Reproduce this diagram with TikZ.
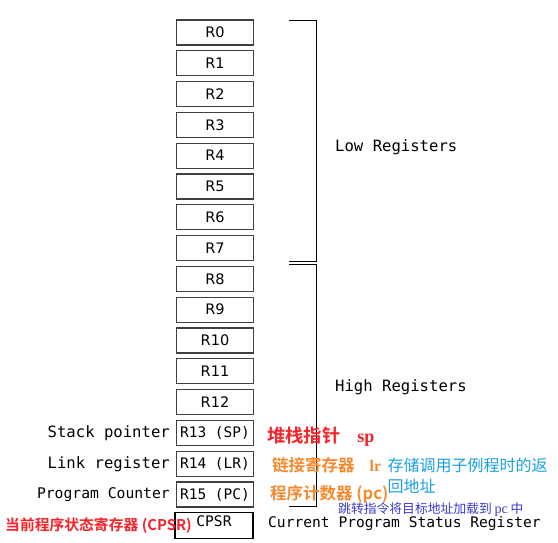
\documentclass[tikz,border=0pt]{standalone}
\usepackage{fontspec}
\setmainfont{DejaVu Sans}
\newfontfamily\monofont{DejaVu Sans Mono}
\newfontfamily\regfont{DejaVu Sans}
\newfontfamily\cjkb{Noto Sans CJK SC}[BoldFont={Noto Sans CJK SC Bold}]
\newfontfamily\cjk{Noto Sans CJK SC}
\newfontfamily\serifb{Liberation Serif}
\definecolor{cred}{HTML}{F5222A}
\definecolor{corange}{HTML}{F4892E}
\definecolor{ccyan}{HTML}{1A9FE3}
\definecolor{cblue}{HTML}{3A3AD0}
\begin{document}
\begin{tikzpicture}[x=1pt,y=-1pt,
  regbox/.style={draw=black!75,line width=1.3pt,minimum width=77pt,minimum height=25pt,inner sep=0pt,font=\regfont\fontsize{14.5}{16}\selectfont},
  monobox/.style={regbox,font=\monofont\fontsize{14.5}{16}\selectfont},
  side/.style={anchor=east,inner sep=0pt,font=\monofont\fontsize{15.6}{17}\selectfont},
  txt/.style={anchor=west,inner sep=0pt},
  brk/.style={line width=1pt}]
\useasboundingbox (0,0) rectangle (558,543);
\foreach \i in {0,...,12}{
  \node[regbox] (r\i) at (215,{32.5+30.8*\i}) {R\i};
}
\node[monobox] (r13) at (215,{32.5+30.8*13}) {R13 (SP)};
\node[monobox] (r14) at (215,{32.5+30.8*14}) {R14 (LR)};
\node[monobox] (r15) at (215,{32.5+30.8*15}) {R15 (PC)};
\node[draw=black,line width=1.5pt,minimum width=78pt,minimum height=26pt,inner sep=0pt] (cpsr) at (214,525.5) {};
\node[inner sep=0pt,font=\monofont\fontsize{14.6}{16}\selectfont] (cpsrt) at (214,521.5) {CPSR};

\node[side] (sp) at (170,433.5) {Stack pointer};
\node[side] (lr) at (170,464.3) {Link register};
\node[side,font=\monofont\fontsize{14.7}{17}\selectfont] (pc) at (170,495.1) {Program Counter};

% brackets
\coordinate (lt) at (289,21);
\coordinate (lb) at (289,261);
\coordinate (ht) at (289,264.5);
\coordinate (hb) at (289,506.5);
\draw[brk] (lt) -| (316,261) -- (lb);
\draw[brk] (ht) -| (316,506.5) -- (hb);

\node[txt,font=\monofont\fontsize{15.6}{17}\selectfont] (low) at (335,147.5) {Low Registers};
\node[txt,font=\monofont\fontsize{15.6}{17}\selectfont] (high) at (335,387.5) {High Registers};

\node[txt,text=cred] (spz) at (267,437) {\cjkb\bfseries\fontsize{18.3}{20}\selectfont 堆栈指针\hspace{17pt}{\serifb\bfseries\fontsize{18}{20}\selectfont sp}};
\node[txt,text=corange] (lrz) at (272,465.5) {\cjkb\bfseries\fontsize{16.5}{18}\selectfont 链接寄存器\hspace{15pt}{\serifb\bfseries\fontsize{16}{18}\selectfont lr}};
\node[txt,text=ccyan,align=left,font=\cjk\fontsize{16}{21.5}\selectfont] (lrd) at (387.5,476) {存储调用子例程时的返\\回地址};
\node[txt,text=corange] (pcz) at (270,494) {\cjkb\bfseries\fontsize{16.5}{18}\selectfont 程序计数器 (pc)};
\node[txt,text=cblue] (pcd) at (338,509.5) {\cjk\fontsize{12.8}{14}\selectfont 跳转指令将目标地址加载到 {\serifb\fontsize{14}{14}\selectfont pc} 中};
\node[txt,text=cred] (cpz) at (5,526) {\cjkb\bfseries\fontsize{14.8}{16}\selectfont 当前程序状态寄存器 (CPSR)};
\node[txt,font=\monofont\fontsize{14.6}{16}\selectfont] (cur) at (268,524) {Current Program Status Register};
\end{tikzpicture}
\end{document}
